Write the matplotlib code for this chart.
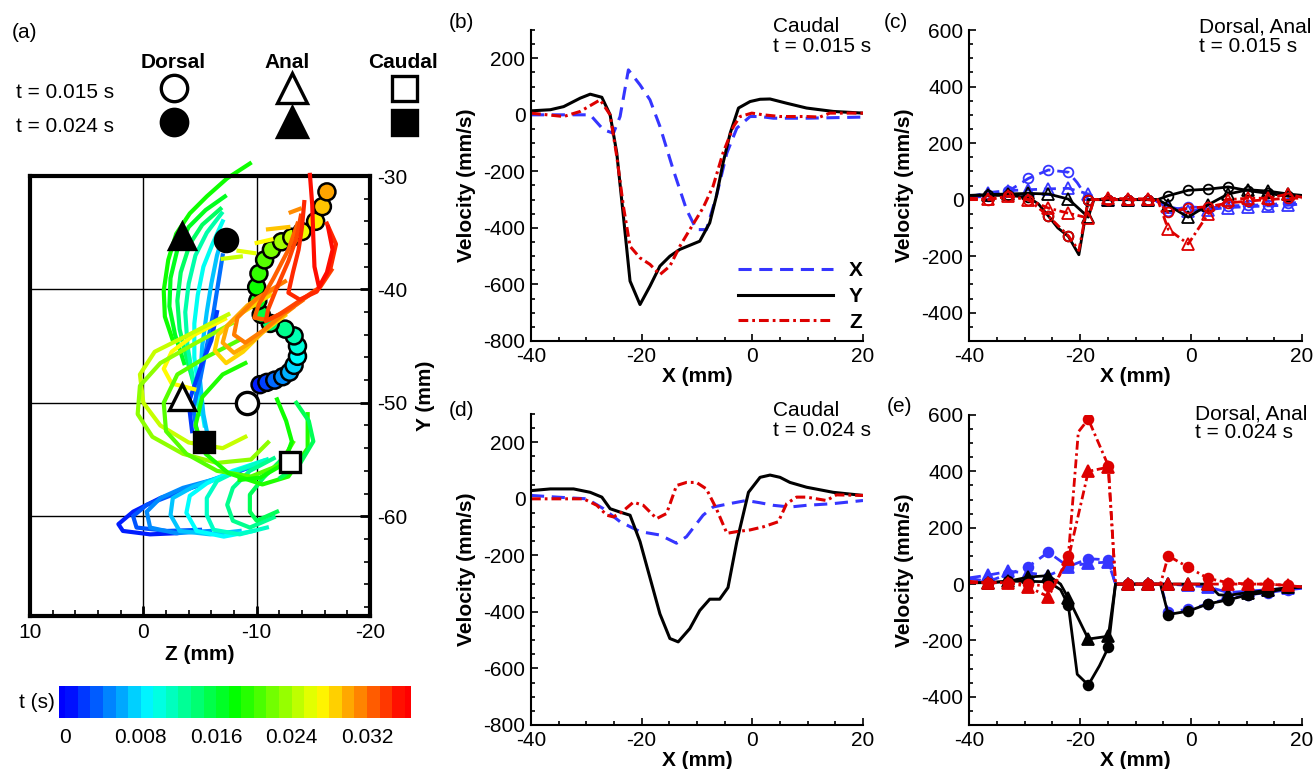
import matplotlib
matplotlib.use("Agg")
import matplotlib as mpl
import matplotlib.pyplot as plt
import numpy as np
from matplotlib.colors import LinearSegmentedColormap, ListedColormap, BoundaryNorm
from matplotlib.ticker import MultipleLocator

plt.rcParams["font.family"] = ["Liberation Sans", "DejaVu Sans"]
plt.rcParams["font.size"] = 15
plt.rcParams["axes.unicode_minus"] = False

W, H = 1316, 769
TMAX = 0.036
BLUE = "#3535ff"
RED = "#dd0000"

# ---------------- panel (a): fin edge traces, (Z, Y) in mm, coloured by t ----------------
# caudal fin "banana" traces
banana_t = [0.0185, 0.017, 0.0145, 0.012, 0.0095, 0.007, 0.004, 0.002]
banana_z = [
    [-9.4, -7.4, -5.6, -4.1, -2.9, -2.2, -1.8, -1.9, -2.6],
    [-7.2, -5.5, -4.0, -3.0, -2.4, -2.3, -2.8, -3.6],
    [-6.8, -5.2, -4.1, -3.3, -3.0, -3.2, -3.8, -4.5],
    [-6.9, -5.6, -4.6, -4.0, -3.7, -3.9, -4.4, -5.0],
    [-7.0, -6.1, -5.3, -4.8, -4.5, -4.5, -4.9, -5.4],
    [-7.1, -6.5, -6.0, -5.6, -5.2, -5.0, -5.3, -5.7],
    [-7.0, -6.6, -6.2, -5.6, -5.0, -4.4, -4.8],
    [-6.5, -6.0, -5.0, -4.0, -4.3],
]
banana_y = [
    [-28.9, -30.2, -31.8, -33.3, -35.1, -37.4, -40.1, -42.4, -44.5],
    [-31.8, -33.0, -34.5, -36.5, -39.0, -41.5, -44.0, -46.5],
    [-32.9, -34.3, -36.0, -38.5, -41.0, -43.5, -46.0, -48.5],
    [-33.3, -35.0, -37.0, -39.5, -42.0, -45.0, -48.0, -51.0],
    [-34.0, -36.0, -38.0, -40.5, -43.0, -46.0, -49.0, -52.0],
    [-35.0, -37.0, -39.5, -42.0, -45.0, -48.0, -51.0, -53.0],
    [-37.0, -39.5, -42.0, -45.0, -48.0, -50.5, -53.0],
    [-42.0, -44.5, -47.0, -50.0, -52.5],
]

# lower hook traces
hook_t = [0.001, 0.003, 0.005, 0.007, 0.009, 0.011, 0.013, 0.015]
hook_z = [
    [-8.5, -5.0, -1.5, 0.9, 2.2, 1.8, -0.6, -2.9],
    [-9.4, -5.9, -2.6, -0.3, 0.9, 0.6, -2.1, -5.0],
    [-10.0, -6.8, -3.5, -1.5, -0.3, -0.6, -2.9, -5.9],
    [-10.3, -7.4, -4.4, -2.6, -2.4, -3.2, -5.9, -8.5],
    [-10.6, -7.9, -5.6, -4.1, -3.8, -4.7, -7.1, -9.7],
    [-10.9, -8.5, -6.5, -5.6, -5.6, -6.2, -8.5, -10.9],
    [-11.5, -9.4, -7.9, -7.4, -7.9, -9.4, -11.5],
    [-12.1, -10.6, -9.4, -9.4, -10.0, -11.8],
]
hook_y = [
    [-56.0, -57.2, -58.4, -59.6, -60.7, -61.3, -61.6, -61.5],
    [-55.7, -56.9, -58.1, -59.0, -60.0, -61.0, -61.3, -61.2],
    [-55.4, -56.6, -57.5, -58.4, -59.6, -61.0, -61.5, -61.3],
    [-55.3, -56.3, -57.4, -58.4, -59.9, -61.3, -61.6, -61.3],
    [-55.1, -56.0, -57.1, -58.2, -59.7, -61.3, -61.8, -61.3],
    [-55.0, -55.9, -56.9, -58.4, -59.9, -61.2, -61.6, -61.0],
    [-54.9, -56.0, -57.5, -59.0, -60.4, -61.0, -60.1],
    [-55.1, -56.6, -58.1, -59.6, -60.4, -59.6],
]

# mid-body loops (yellow -> green) and right V traces
loop_t = [0.027, 0.025, 0.023, 0.021, 0.019, 0.0185, 0.015]
loop_z = [
    [-7.2, -4.5, -2.5, -1.8, -2.5, -4.5],
    [-7.5, -4.0, -1.0, 0.3, 0.0, -1.5, -4.0, -7.0, -9.0],
    [-7.8, -4.5, -1.5, 0.3, 0.5, -0.8, -3.5, -6.5, -9.5, -11.0],
    [-8.4, -5.5, -3.0, -1.8, -2.0, -3.8, -6.5, -9.5, -12.0, -13.2],
    [-9.0, -7.0, -5.2, -4.6, -5.5, -7.5, -10.5, -12.8, -14.5, -14.5],
    [-11.8, -12.6, -13.1, -12.4, -10.3, -8.5],
    [-13.5, -14.6, -15.0, -13.8, -12.1],
]
loop_y = [
    [-42.6, -44.0, -45.5, -47.0, -48.3, -48.8],
    [-42.2, -44.0, -45.5, -47.5, -50.0, -52.0, -53.5, -54.0, -53.0],
    [-43.0, -44.8, -46.5, -48.5, -51.0, -53.0, -54.5, -55.3, -55.0, -53.5],
    [-44.5, -46.0, -47.5, -50.0, -52.5, -54.5, -56.0, -56.5, -55.5, -53.5],
    [-46.5, -47.5, -49.5, -52.0, -54.5, -56.2, -57.2, -56.5, -54.0, -51.0],
    [-49.7, -51.6, -53.4, -55.4, -56.6, -56.8],
    [-50.0, -51.6, -53.4, -55.4, -56.6],
]

# late traces (orange / red) and short strokes near the top
late_t = [0.0285, 0.030, 0.0315, 0.0325, 0.0335, 0.0345, 0.0355,
          0.025, 0.026, 0.027, 0.029, 0.031]
late_z = [
    [-11.2, -8.5, -6.6, -6.3, -7.3, -8.8, -10.5, -12.5],
    [-11.8, -9.2, -7.4, -7.0, -8.0, -9.6, -11.4, -13.2],
    [-12.5, -10.0, -8.3, -8.0, -9.0, -10.6, -12.3, -14.0],
    [-13.6, -12.8, -11.5, -10.2, -9.8, -11.0, -12.8, -14.5],
    [-13.9, -13.5, -12.8, -11.8, -11.0, -10.8, -12.0, -13.8, -15.6, -16.6],
    [-14.2, -14.0, -13.7, -13.2, -12.8, -13.8, -15.3, -16.5, -17.0, -16.2],
    [-14.7, -14.9, -15.0, -15.1, -15.5, -16.2, -16.7, -16.3],
    [-7.0, -8.6], [-8.4, -9.8], [-10.0, -11.3], [-11.0, -12.8], [-13.0, -13.8],
]
late_y = [
    [-40.5, -42.2, -44.0, -45.4, -46.5, -45.5, -43.8, -42.3],
    [-39.8, -41.4, -43.2, -44.7, -45.6, -44.6, -43.0, -41.6],
    [-39.3, -40.8, -42.5, -44.0, -44.7, -43.6, -42.2, -41.0],
    [-34.2, -36.5, -39.0, -41.3, -42.5, -42.7, -41.8, -40.6],
    [-33.5, -35.5, -37.5, -39.8, -41.8, -42.8, -42.2, -41.0, -39.8, -38.3],
    [-32.3, -34.5, -36.5, -38.5, -40.3, -40.9, -40.2, -38.2, -36.0, -34.2],
    [-29.9, -32.5, -35.5, -38.0, -39.8, -38.5, -36.5, -34.5],
    [-37.3, -37.1], [-36.6, -36.8], [-35.9, -35.6], [-34.7, -34.5], [-33.2, -32.9],
]

# dorsal fin tip positions (circles)
dorsal_t = [0.0010, 0.0023, 0.0037, 0.0050, 0.0063, 0.0077, 0.0090, 0.0103,
            0.0117, 0.0130, 0.0143, 0.0157, 0.0170, 0.0183, 0.0197, 0.0210,
            0.0223, 0.0237, 0.0250, 0.0263, 0.0275, 0.0290, 0.0302]
dorsal_z = [-10.3, -10.9, -11.6, -12.3, -12.9, -13.3, -13.6, -13.6,
            -13.3, -12.5, -11.2, -10.4, -10.1, -10.0, -10.2, -10.7,
            -11.3, -12.2, -13.1, -14.0, -15.2, -15.8, -16.2]
dorsal_y = [-48.4, -48.2, -48.0, -47.7, -47.3, -46.7, -45.9, -45.0,
            -44.1, -43.5, -43.0, -42.2, -41.0, -39.8, -38.6, -37.4,
            -36.5, -35.8, -35.4, -34.9, -34.0, -32.7, -31.4]

# marked fin positions: dorsal, anal, caudal
fins = ["Dorsal", "Anal", "Caudal"]
fin_markers = ["o", "^", "s"]
fin_ms = [16, 19, 14]
mark015_z = [-9.15, -3.4, -12.95]
mark015_y = [-50.0, -49.5, -55.2]
mark024_z = [-7.3, -3.4, -5.36]
mark024_y = [-35.6, -35.3, -53.5]

# ---------------- panels (b), (d): caudal fin velocity ----------------
b_X_x = [-40, -36.5, -29.3, -26.9, -25.1, -23.9, -22.4, -20.3, -18.5, -16.7, -14.3, -11.9, -10.1,
         -8.3, -6.5, -4.6, -2.8, -0.4, 1.4, 3.8, 9.8, 20]
b_X_v = [0, 0, 0, -53, -65, -6, 159, 106, 53, -41, -194, -335, -406,
         -406, -288, -135, -47, -6, -6, -12, -12, -8]
b_Y_x = [-40, -36.5, -34.1, -31.1, -29.3, -27.2, -25.7, -24.5, -23.3, -22.1, -20.3, -18.5, -16.7,
         -14.9, -13.1, -9.5, -7.7, -6.5, -5.3, -4.0, -2.5, -0.4, 1.4, 3.2, 6.2, 9.8, 14.6, 20]
b_Y_v = [14, 18, 29, 59, 73, 62, 0, -135, -359, -588, -671, -606, -535,
         -500, -476, -447, -382, -288, -171, -65, 24, 47, 55, 56, 41, 24, 12, 6]
b_Z_x = [-40, -34.1, -31.1, -27.5, -25.7, -24.5, -23.3, -22.1, -20.3, -18.5, -16.7, -14.9, -13.1,
         -11.3, -8.9, -7.1, -5.3, -3.4, -2.2, -0.1, 2, 5, 9.8, 12.2, 14, 20]
b_Z_v = [6, -6, 12, 53, 0, -147, -324, -465, -506, -529, -565, -535, -465,
         -406, -329, -253, -135, -41, -6, 6, 0, -6, -6, -8, 6, 6]

d_X_x = [-40, -35.3, -29.9, -26.9, -23.9, -20.3, -16.7, -13.7, -11.9, -8.9, -7.1, -4.1, -1.1,
         1.4, 3.8, 6.8, 9.8, 14.6, 20]
d_X_v = [12, 6, 0, -35, -81, -116, -128, -157, -134, -58, -29, -17, -6,
         -14, -23, -29, -23, -17, -6]
d_Y_x = [-40, -36.5, -32.3, -29.3, -27.2, -25.7, -23.9, -22.1, -20.3, -18.5, -16.7, -14.9, -13.4,
         -11.3, -9.5, -7.7, -5.9, -4.4, -2.8, -0.7, 1.4, 3.2, 5, 6.8, 9.8, 14.6, 20]
d_Y_v = [29, 35, 35, 23, 6, -35, -47, -58, -151, -279, -407, -494, -506,
         -459, -395, -355, -355, -314, -151, 23, 76, 84, 76, 58, 41, 23, 12]
d_Z_x = [-40, -35.3, -30.5, -28.1, -26.3, -25.1, -23.6, -21.5, -19.7, -17.3, -15.5, -13.7, -11.9,
         -10.1, -8.3, -6.5, -4.6, -2.8, -0.4, 2, 4.7, 6.2, 8, 9.8, 13.4, 15.2, 20]
d_Z_v = [0, 0, 0, -23, -58, -64, -47, -12, -23, -70, -52, 47, 58,
         58, 35, -35, -122, -116, -110, -99, -81, -17, 6, 6, -6, 14, 12]

# ---------------- panels (c), (e): dorsal (circles) and anal (triangles) ----------------
XM = [-36.5, -32.9, -29.3, -25.7, -22.1, -18.5, -14.9, -11.3, -7.7, -4.1, -0.5,
      3.1, 6.7, 10.3, 13.9, 17.5]

c_dor_X = ([-40, -36.5, -32.9, -29.3, -25.7, -22.1, -20.5, -18.5, -14.9, -11.3, -7.7, -5.5, -4.1,
            -0.5, 3.1, 6.7, 10.3, 13.9, 17.5, 20],
           [8, 12, 30, 75, 105, 97, 60, 0, 0, 0, 0, -10, -40, -25, -30, -22, -20, -18, -12, -10])
c_dor_Y = ([-40, -36.5, -32.9, -29.3, -27.5, -25.7, -24, -22.1, -20.2, -18.5, -14.9, -11.3, -7.7,
            -6, -4.1, -0.5, 3.1, 6.7, 10.3, 13.9, 17.5, 20],
           [15, 15, 15, 8, -15, -58, -100, -130, -195, 0, 0, 0, 0, 0, 14, 33, 37, 45, 32, 22, 12, 10])
c_dor_Z = ([-40, -36.5, -32.9, -29.3, -25.7, -22.1, -20.2, -18.5, -14.9, -11.3, -7.7, -6, -4.1,
            -0.5, 3.1, 6.7, 10.3, 13.9, 17.5, 20],
           [0, 0, 12, 0, -58, -128, -180, 0, 0, 0, 0, -5, -45, -30, -25, -12, -5, 0, 5, 5])
c_ana_X = ([-40, -36.5, -32.9, -29.3, -25.7, -22.1, -18.5, -16.5, -14.9, -11.3, -7.7, -6, -4.1,
            -0.5, 3.1, 6.7, 10.3, 13.9, 17.5, 20],
           [10, 25, 32, 35, 38, 40, 20, 0, 0, 0, 0, -5, -25, -40, -35, -28, -25, -22, -20, -15])
c_ana_Y = ([-40, -36.5, -32.9, -29.3, -25.7, -22.1, -18.5, -17.5, -14.9, -11.3, -7.7, -6, -4.1,
            -0.5, 3.1, 6.7, 10.3, 13.9, 17.5, 20],
           [15, 18, 20, 22, 20, 2, -62, 0, 0, 0, 0, 0, -20, -62, -18, 20, 35, 30, 20, 15])
c_ana_Z = ([-40, -36.5, -32.9, -29.3, -25.7, -22.1, -18.5, -17.5, -14.9, -11.3, -7.7, -6, -4.1,
            -0.5, 3.1, 6.7, 10.3, 13.9, 17.5, 20],
           [5, 2, 12, 0, -30, -48, -65, 0, 5, 3, 3, 0, -105, -157, -50, 0, 5, 5, 20, 8])

e_dor_X = ([-40, -36.5, -32.9, -29.3, -25.7, -22.1, -18.5, -14.9, -13.6, -11.3, -7.7, -5.5, -4.1,
            -0.5, 3.1, 6.7, 10.3, 13.9, 17.5, 20],
           [20, 10, 35, 62, 113, 62, 90, 86, 0, 0, 0, 0, -98, -90, -70, -52, -38, -30, -20, -15])
e_dor_Y = ([-40, -36.5, -32.9, -29.3, -25.7, -23.5, -22.1, -20.5, -18.5, -16.5, -14.9, -13.6, -11.3,
            -7.7, -5.5, -4.1, -0.5, 3.1, 6.7, 10.3, 13.9, 17.5, 20],
           [5, 5, 10, 10, 8, -20, -75, -320, -358, -290, -225, 0, 0,
            0, 0, -108, -96, -70, -56, -38, -28, -15, -10])
e_dor_Z = ([-40, -36.5, -32.9, -29.3, -25.7, -24, -22.1, -20.3, -18.5, -14.9, -13.6, -11.3, -7.7,
            -5.5, -4.1, -0.5, 3.1, 6.7, 10.3, 13.9, 17.5, 20],
           [10, 5, 5, 0, -8, 20, 100, 540, 585, 420, 0, 0, 0, 0, 100, 60, 20, 5, 0, 0, -5, -10])
e_ana_X = ([-40, -36.5, -32.9, -29.3, -25.7, -22.1, -18.5, -14.9, -13.6, -11.3, -7.7, -4.1, -0.5,
            3.1, 6.7, 10.3, 13.9, 17.5, 20],
           [22, 32, 45, 40, 30, 62, 74, 78, 0, 0, 0, 0, -5, -10, -30, -25, -20, -15, -12])
e_ana_Y = ([-40, -36.5, -32.9, -29.3, -25.7, -23.5, -22.1, -18.5, -14.9, -13.6, -11.3, -7.7, -4.1,
            -0.5, 3.1, 5, 6.7, 10.3, 13.9, 17.5, 20],
           [5, 5, 10, 25, 30, 0, -50, -195, -185, 0, 0, 0, 0, 0, 0, -38, -40, -30, -22, -12, -10])
e_ana_Z = ([-40, -36.5, -32.9, -29.3, -25.7, -22.1, -18.5, -14.9, -13.6, -11.3, -7.7, -4.1, -0.5,
            3.1, 6.7, 10.3, 13.9, 17.5, 20],
           [5, 5, 5, -10, -45, 90, 400, 415, 0, 0, 0, 0, 0, 0, 0, 0, 0, -5, -10])

comp_styles = {
    "X": dict(color=BLUE, ls=(0, (4.3, 2.5))),
    "Y": dict(color="k", ls="-"),
    "Z": dict(color=RED, ls=(0, (3.2, 1.3, 0.9, 1.3))),
}

cmap = LinearSegmentedColormap.from_list(
    "rainbow_t", ["#0000ff", "#00ffff", "#00ff00", "#ffff00", "#ff0000"])


def px(x0, y0, w, h):
    return [x0 / W, 1 - (y0 + h) / H, w / W, h / H]


fig = plt.figure(figsize=(W / 100, H / 100), dpi=100)

# ---------------- panel (a) ----------------
ax = fig.add_axes(px(30, 176, 340, 440))
ax.set_xlim(10, -20)
ax.set_ylim(-68.8, -30)
ax.set_xticks([10, 0, -10, -20])
ax.set_yticks([-30, -40, -50, -60])
ax.xaxis.set_minor_locator(MultipleLocator(2))
ax.yaxis.set_minor_locator(MultipleLocator(2))
ax.yaxis.tick_right()
ax.yaxis.set_label_position("right")
ax.grid(True, which="major", color="k", lw=1.0)
ax.set_axisbelow(True)
for s in ax.spines.values():
    s.set_linewidth(3)
ax.tick_params(which="both", direction="in", labelsize=15, top=False, left=False)
ax.tick_params(which="major", length=7, width=2, pad=5)
ax.tick_params(which="minor", length=4, width=1.2)
ax.set_xlabel("Z (mm)", fontweight="bold", labelpad=2)
ax.set_ylabel("Y (mm)", fontweight="bold", labelpad=6)

for group_t, group_z, group_y in [(hook_t, hook_z, hook_y), (banana_t, banana_z, banana_y),
                                  (loop_t, loop_z, loop_y)]:
    for t, zs, ys in zip(group_t, group_z, group_y):
        ax.plot(zs, ys, color=cmap(t / TMAX), lw=3, clip_on=False, zorder=2)
ax.scatter(dorsal_z, dorsal_y, c=dorsal_t, cmap=cmap, vmin=0, vmax=TMAX, s=150,
           edgecolors="k", linewidths=1.8, zorder=3)
for t, zs, ys in sorted(zip(late_t, late_z, late_y), key=lambda r: r[0]):
    ax.plot(zs, ys, color=cmap(t / TMAX), lw=3, clip_on=False, zorder=4)
for m, ms, z1, y1, z2, y2 in zip(fin_markers, fin_ms, mark015_z, mark015_y, mark024_z, mark024_y):
    ax.plot([z1], [y1], m, ms=ms, mfc="white", mec="k", mew=2.4, zorder=6)
    ax.plot([z2], [y2], m, ms=ms, mfc="k", mec="k", mew=2.4, zorder=6)

# colour bar
cax = fig.add_axes(px(59, 686, 352, 32))
bounds = np.concatenate([[-TMAX / 54], np.linspace(0, TMAX, 28), [TMAX + TMAX / 54]])
centers = np.clip(0.5 * (bounds[:-1] + bounds[1:]), 0, TMAX) / TMAX
cb = mpl.colorbar.ColorbarBase(cax, cmap=ListedColormap(cmap(centers)),
                               norm=BoundaryNorm(bounds, len(centers)),
                               orientation="horizontal", spacing="proportional",
                               ticks=[0, 0.008, 0.016, 0.024, 0.032])
cb.set_ticklabels(["0", "0.008", "0.016", "0.024", "0.032"])
cb.outline.set_visible(False)
cax.minorticks_off()
cax.tick_params(which="both", length=0, labelsize=15, pad=7)

# ---------------- velocity panels ----------------


def style_vel(a, ylo, yhi, yt):
    a.set_xlim(-40, 20)
    a.set_ylim(ylo, yhi)
    a.set_xticks([-40, -20, 0, 20])
    a.set_yticks(yt)
    a.xaxis.set_minor_locator(MultipleLocator(5))
    a.yaxis.set_minor_locator(MultipleLocator(50))
    for s in ("top", "right"):
        a.spines[s].set_visible(False)
    for s in ("left", "bottom"):
        a.spines[s].set_linewidth(1.5)
    a.tick_params(which="both", direction="in", labelsize=15, width=1.2)
    a.tick_params(which="major", length=5, pad=4)
    a.tick_params(which="minor", length=3)
    a.set_xlabel("X (mm)", fontweight="bold", labelpad=1)
    a.set_ylabel("Velocity (mm/s)", fontweight="bold", labelpad=5)


ax_b = fig.add_axes(px(531, 30, 332, 311))
ax_d = fig.add_axes(px(531, 414, 332, 311))
ax_c = fig.add_axes(px(969, 30, 333, 311))
ax_e = fig.add_axes(px(969, 415, 333, 310))

for a, series in [(ax_b, [("X", b_X_x, b_X_v), ("Y", b_Y_x, b_Y_v), ("Z", b_Z_x, b_Z_v)]),
                  (ax_d, [("X", d_X_x, d_X_v), ("Y", d_Y_x, d_Y_v), ("Z", d_Z_x, d_Z_v)])]:
    for name, xs, vs in series:
        a.plot(xs, vs, lw=2.2, label=name, **comp_styles[name])
    style_vel(a, -800, 300, [-800, -600, -400, -200, 0, 200])

leg = ax_b.legend(loc="lower right", bbox_to_anchor=(1.0, 0.03), frameon=False,
                  handlelength=4.6, handletextpad=0.75, labelspacing=0.33,
                  borderpad=0, borderaxespad=0, prop=dict(weight="bold", size=15))

for a, filled, groups in [
        (ax_c, False, [("o", 7, c_dor_X, c_dor_Y, c_dor_Z), ("^", 8.5, c_ana_X, c_ana_Y, c_ana_Z)]),
        (ax_e, True, [("o", 7, e_dor_X, e_dor_Y, e_dor_Z), ("^", 8.5, e_ana_X, e_ana_Y, e_ana_Z)])]:
    for name_idx, name in enumerate(["X", "Y", "Z"]):
        for m, ms, *comps in groups:
            xs, vs = comps[name_idx]
            st = comp_styles[name]
            idx = [i for i, x in enumerate(xs) if any(abs(x - q) < 0.05 for q in XM)]
            a.plot(xs, vs, lw=2.0, color=st["color"], ls=st["ls"], marker=m, ms=ms,
                   markevery=idx, mfc=st["color"] if filled else "none",
                   mec=st["color"], mew=1.3)
    style_vel(a, -500, 600, [-400, -200, 0, 200, 400, 600])

# ---------------- text and symbol key (figure pixel coordinates) ----------------
ov = fig.add_axes([0, 0, 1, 1])
ov.set_xlim(0, W)
ov.set_ylim(H, 0)
ov.axis("off")

ov.text(12, 32, "(a)", va="center", ha="left")
for fin, xc in zip(fins, [173, 287, 403]):
    ov.text(xc, 62, fin, ha="center", va="center", fontweight="bold")
ov.text(16, 93, "t = 0.015 s", va="center", ha="left")
ov.text(16, 127, "t = 0.024 s", va="center", ha="left")
for m, ms, xc in zip(fin_markers, [19, 21.5, 18], [174, 292, 404]):
    ov.plot([xc], [88], m, ms=ms, mfc="white", mec="k", mew=2.4)
    ov.plot([xc], [122], m, ms=ms, mfc="k", mec="k", mew=2.4)
ov.text(55, 703, "t (s)", va="center", ha="right")

ov.text(449, 23, "(b)", va="center", ha="left")
ov.text(773, 27, "Caudal", va="center", ha="left")
ov.text(773, 47, "t = 0.015 s", va="center", ha="left")
ov.text(884, 23, "(c)", va="center", ha="left")
ov.text(1199, 27, "Dorsal, Anal", va="center", ha="left")
ov.text(1199, 46, "t = 0.015 s", va="center", ha="left")
ov.text(449, 411, "(d)", va="center", ha="left")
ov.text(773, 411, "Caudal", va="center", ha="left")
ov.text(773, 431, "t = 0.024 s", va="center", ha="left")
ov.text(887, 406, "(e)", va="center", ha="left")
ov.text(1195, 414, "Dorsal, Anal", va="center", ha="left")
ov.text(1195, 433, "t = 0.024 s", va="center", ha="left")

fig.savefig("out.png", dpi=100)
